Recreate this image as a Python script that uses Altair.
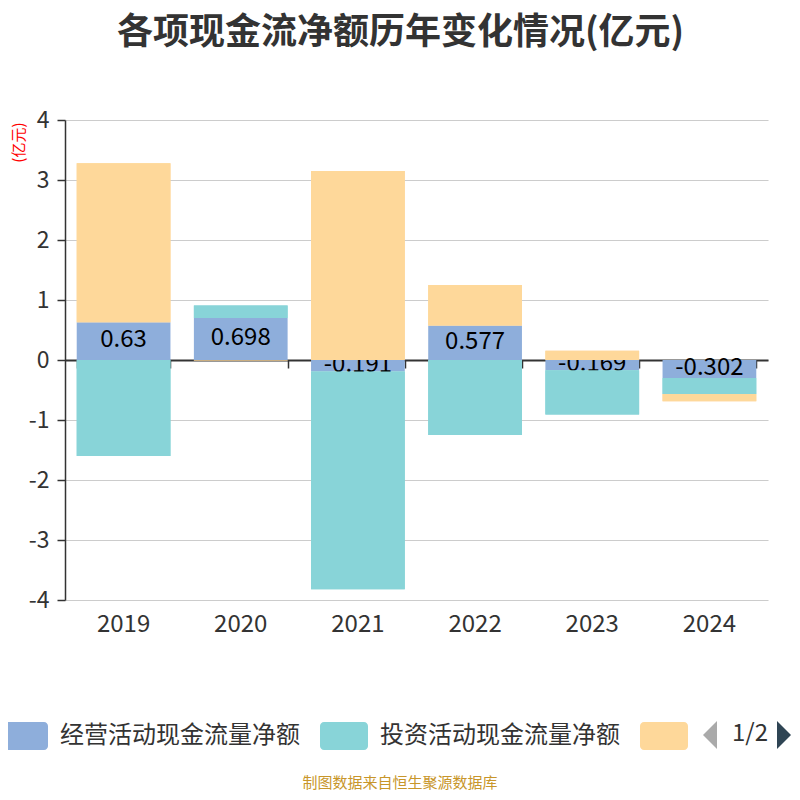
import altair as alt
import pandas as pd

years = ['2019', '2020', '2021', '2022', '2023', '2024']
series = ['经营活动现金流量净额', '投资活动现金流量净额', '筹资活动现金流量净额']
op_vals = [0.63, 0.698, -0.191, 0.577, -0.169, -0.302]
inv_vals = [-1.60, 0.21, -3.63, -1.25, -0.74, -0.265]
fin_vals = [2.65, -0.01, 3.15, 0.675, 0.155, -0.12]
op_labels = ['0.63', '0.698', '-0.191', '0.577', '-0.169', '-0.302']
colors = ['#8eaedb', '#88d4d8', '#fed89a']
y_ticks = [-4, -3, -2, -1, 0, 1, 2, 3, 4]

rows = []
for i, y in enumerate(years):
    for k, (s, vals) in enumerate(zip(series, [op_vals, inv_vals, fin_vals])):
        rows.append({'year': y, 'series': s, 'order': k, 'value': vals[i],
                     'label': op_labels[i] if k == 0 else ''})
df = pd.DataFrame(rows)

FONT = 'Noto Sans CJK SC'
W, H = 703, 480

xscale = alt.Scale(paddingInner=0.2, paddingOuter=0.1)
yscale = alt.Scale(domain=[-4, 4], nice=False)
cscale = alt.Scale(domain=series, range=colors)

yaxis = alt.Axis(values=y_ticks, labelExpr="'' + datum.value", labelFontSize=23,
                 labelColor='#333', labelFont=FONT, labelPadding=8,
                 domainColor='#333', domainWidth=1.5, tickColor='#333', tickSize=8,
                 tickWidth=1.5, gridColor='#cccccc', gridWidth=1.2,
                 title='(亿元)', titleColor='red', titleFontSize=15, titleFont=FONT,
                 titleFontWeight='normal', titleAngle=-90, titleAlign='right',
                 titleBaseline='top', titleX=-54, titleY=2)

xaxis_labels = alt.Axis(orient='bottom', domain=False, ticks=False, grid=False,
                        labelFontSize=24, labelColor='#333', labelFont=FONT,
                        labelPadding=12, labelAngle=0, title=None)
xaxis_zero = alt.Axis(orient='bottom', offset=-240, labels=False, grid=False,
                      domainColor='#333', domainWidth=1.8, tickColor='#333',
                      tickSize=8, tickWidth=1.5, tickBand='extent', title=None)

rect_sym = ("M-0.833,-0.583H0.833A0.167,0.167 0 0 1 1,-0.417V0.417"
            "A0.167,0.167 0 0 1 0.833,0.583H-0.833A0.167,0.167 0 0 1 -1,0.417"
            "V-0.417A0.167,0.167 0 0 1 -0.833,-0.583Z")

legend = alt.Legend(orient='none', legendX=-65, legendY=592, direction='horizontal',
                    title=None, symbolType=rect_sym, symbolSize=2304,
                    symbolStrokeWidth=0, symbolOpacity=1, labelFontSize=24,
                    labelFont=FONT, labelColor='#333', labelOffset=12,
                    columnPadding=20, labelLimit=400, padding=0,
                    labelExpr="datum.label == '筹资活动现金流量净额' ? '' : datum.label")

base = alt.Chart(df).transform_stack(
    stack='value', groupby=['year'], as_=['y0', 'y1'],
    sort=[alt.SortField('order', order='ascending')]
)

bars_all = base.mark_bar().encode(
    x=alt.X('year:N', scale=xscale, axis=xaxis_labels, sort=years),
    y=alt.Y('y0:Q', scale=yscale, axis=yaxis),
    y2='y1:Q',
    color=alt.Color('series:N', scale=cscale, legend=legend, sort=series),
)

labels = base.transform_filter(alt.datum.order == 0).transform_calculate(
    mid='(datum.y0 + datum.y1) / 2'
).mark_text(fontSize=24, font=FONT, color='#000', baseline='middle', dy=-1).encode(
    x=alt.X('year:N', scale=xscale, axis=None, sort=years),
    y=alt.Y('mid:Q', scale=yscale, axis=yaxis),
    text='label:N',
)

bars_top = base.transform_filter(alt.datum.order > 0).mark_bar().encode(
    x=alt.X('year:N', scale=xscale, axis=xaxis_zero, sort=years),
    y=alt.Y('y0:Q', scale=yscale, axis=yaxis),
    y2='y1:Q',
    color=alt.Color('series:N', scale=cscale, legend=legend, sort=series),
)

pager_df = pd.DataFrame({'t': ['1/2']})
pager_text = alt.Chart(pager_df).mark_text(fontSize=24, font=FONT, color='#333',
                                          baseline='middle', align='center').encode(
    x=alt.value(685), y=alt.value(614), text='t:N')
arrow_left = alt.Chart(pager_df).mark_point(
    shape='M0.5,-1L-0.5,0L0.5,1Z', filled=True, size=784, color='#aaaaaa', opacity=1
).encode(x=alt.value(645), y=alt.value(615))
arrow_right = alt.Chart(pager_df).mark_point(
    shape='M-0.5,-1L0.5,0L-0.5,1Z', filled=True, size=784, color='#2f4554', opacity=1
).encode(x=alt.value(719), y=alt.value(615))

footer = alt.Chart(pd.DataFrame({'t': ['制图数据来自恒生聚源数据库']})).mark_text(
    fontSize=15, font=FONT, color='#c8962a', baseline='middle', align='center'
).encode(x=alt.value(335), y=alt.value(663), text='t:N')

chart = alt.layer(bars_all, labels, bars_top, pager_text, arrow_left, arrow_right, footer).resolve_axis(
    x='independent'
).properties(
    width=W, height=H,
    title=alt.TitleParams('各项现金流净额历年变化情况(亿元)', fontSize=36, fontWeight='bold',
                          color='#333', font=FONT, anchor='middle', dx=-16, offset=57),
    autosize=alt.AutoSizeParams(type='none'),
    padding={'left': 57, 'top': 112, 'right': 24, 'bottom': 192},
).configure_view(stroke=None)

chart.save('out.html', embed_options={'renderer': 'svg', 'actions': False})
